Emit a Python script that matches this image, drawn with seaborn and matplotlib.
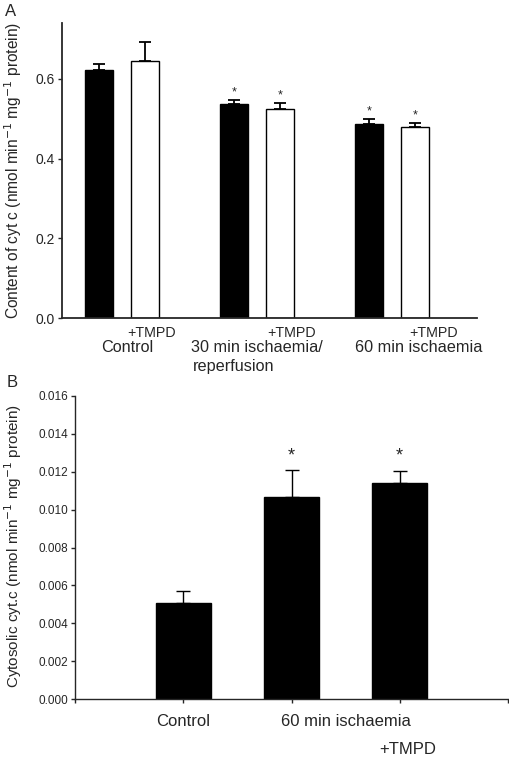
import matplotlib
matplotlib.use("Agg")
import matplotlib.pyplot as plt
import matplotlib.transforms as mtrans
import seaborn as sns
import pandas as pd
import numpy as np

sns.set_theme(style="ticks")
plt.rcParams['font.family'] = ['Liberation Sans', 'DejaVu Sans']

# Panel A data
groups_a = ["Control", "30 min ischaemia/reperfusion", "60 min ischaemia"]
treat_a = ["none", "+TMPD"]
vals_a_plain = [0.621, 0.537, 0.487]
vals_a_tmpd = [0.644, 0.525, 0.479]
err_a_plain = [0.017, 0.011, 0.013]
err_a_tmpd = [0.049, 0.015, 0.010]
star_a_plain = [False, True, True]
star_a_tmpd = [False, True, True]
yticks_a = [0.0, 0.2, 0.4, 0.6]

# Panel B data
cats_b = ["Control", "60 min ischaemia", "60 min ischaemia +TMPD"]
vals_b = [0.00505, 0.01065, 0.01142]
err_b = [0.00065, 0.00144, 0.00064]
star_b = [False, True, True]
yticks_b = [0.000, 0.002, 0.004, 0.006, 0.008, 0.010, 0.012, 0.014, 0.016]

W, H = 509, 759
fig = plt.figure(figsize=(W / 100, H / 100), dpi=100)

def px_axes(l, r, t, b):
    return fig.add_axes([l / W, 1 - b / H, (r - l) / W, (b - t) / H])

def fy(py):
    return 1 - py / H

# ---------------- Panel A ----------------
axA = px_axes(62, 477, 23, 318)
dfA = pd.DataFrame({
    "group": groups_a * 2,
    "treat": [treat_a[0]] * 3 + [treat_a[1]] * 3,
    "value": vals_a_plain + vals_a_tmpd,
})
sns.barplot(data=dfA, x="group", y="value", hue="treat", order=groups_a,
            hue_order=treat_a, palette=["black", "white"], width=0.68, gap=0.39,
            edgecolor="black", linewidth=1.0, errorbar=None, legend=False, ax=axA)

errs = err_a_plain + err_a_tmpd
vals = vals_a_plain + vals_a_tmpd
stars = star_a_plain + star_a_tmpd
bars = [p for p in axA.patches if p.get_height() > 0]
bars = sorted(bars, key=lambda p: p.get_x())
order_idx = [0, 3, 1, 4, 2, 5]
for p, i in zip(bars, order_idx):
    cx = p.get_x() + p.get_width() / 2
    axA.errorbar([cx], [vals[i]], yerr=[[0], [errs[i]]], fmt="none",
                 ecolor="black", elinewidth=1.3, capsize=4, capthick=1.3)
    if stars[i]:
        axA.text(cx, vals[i] + errs[i] + 0.003, "*", ha="center", va="bottom",
                 fontsize=9)

axA.set_xlim(-0.444, 2.63)
axA.set_ylim(0, 0.74)
axA.set_yticks(yticks_a)
axA.set_yticklabels([f"{v:.1f}" for v in yticks_a], fontsize=10)
axA.set_xticks([])
axA.set_xlabel("")
axA.set_ylabel("Content of cyt c (nmol min$^{-1}$ mg$^{-1}$ protein)", fontsize=11.2)
axA.yaxis.set_label_coords((24 - 62) / 415, 0.50)
sns.despine(ax=axA)
for s in ["left", "bottom"]:
    axA.spines[s].set_linewidth(1.3)
axA.tick_params(axis="y", length=3, width=1.0, pad=2)

trA = mtrans.blended_transform_factory(axA.transData, fig.transFigure)
for xd, txt in [(0.22, "+TMPD"), (1.26, "+TMPD"), (2.31, "+TMPD")]:
    axA.text(xd, fy(333), txt, transform=trA, ha="center", va="center", fontsize=10.3)
axA.text(0.04, fy(348), "Control", transform=trA, ha="center", va="center", fontsize=11.7)
axA.text(1.0, fy(348), "30 min ischaemia/", transform=trA, ha="center", va="center", fontsize=11.7)
axA.text(0.83, fy(367), "reperfusion", transform=trA, ha="center", va="center", fontsize=11.7)
axA.text(2.2, fy(348), "60 min ischaemia", transform=trA, ha="center", va="center", fontsize=11.7)

fig.text(11 / W, fy(12), "A", ha="center", va="center", fontsize=12)

# ---------------- Panel B ----------------
axB = px_axes(75, 508, 396, 699)
dfB = pd.DataFrame({"cat": cats_b, "value": vals_b})
sns.barplot(data=dfB, x="cat", y="value", order=cats_b, color="black",
            width=0.51, edgecolor="black", errorbar=None, ax=axB)
barsB = sorted([p for p in axB.patches if p.get_height() > 0], key=lambda p: p.get_x())
for i, p in enumerate(barsB):
    cx = p.get_x() + p.get_width() / 2
    axB.errorbar([cx], [vals_b[i]], yerr=[[0], [err_b[i]]], fmt="none",
                 ecolor="black", elinewidth=1.0, capsize=5, capthick=1.0)
    if star_b[i]:
        axB.text(cx, vals_b[i] + err_b[i] + 0.0003, "*", ha="center", va="bottom",
                 fontsize=13)

axB.set_xlim(-1, 3)
axB.set_ylim(0, 0.016)
axB.set_yticks(yticks_b)
axB.set_yticklabels([f"{v:.3f}" for v in yticks_b], fontsize=8.5)
axB.set_xticks([-1, 0, 1, 2, 3])
axB.set_xticklabels([])
axB.set_xlabel("")
axB.set_ylabel("Cytosolic cyt.c (nmol min$^{-1}$ mg$^{-1}$ protein)", fontsize=11.0)
axB.yaxis.set_label_coords((24 - 75) / 433, 0.505)
sns.despine(ax=axB)
for s in ["left", "bottom"]:
    axB.spines[s].set_linewidth(1.0)
axB.tick_params(axis="both", length=3, width=1.0, pad=2)

trB = mtrans.blended_transform_factory(axB.transData, fig.transFigure)
axB.text(0.0, fy(722), "Control", transform=trB, ha="center", va="center", fontsize=12)
axB.text(1.5, fy(722), "60 min ischaemia", transform=trB, ha="center", va="center", fontsize=12)
axB.text(2.07, fy(750), "+TMPD", transform=trB, ha="center", va="center", fontsize=12)

fig.text(12 / W, fy(382), "B", ha="center", va="center", fontsize=12)

fig.savefig("out.png", dpi=100)
